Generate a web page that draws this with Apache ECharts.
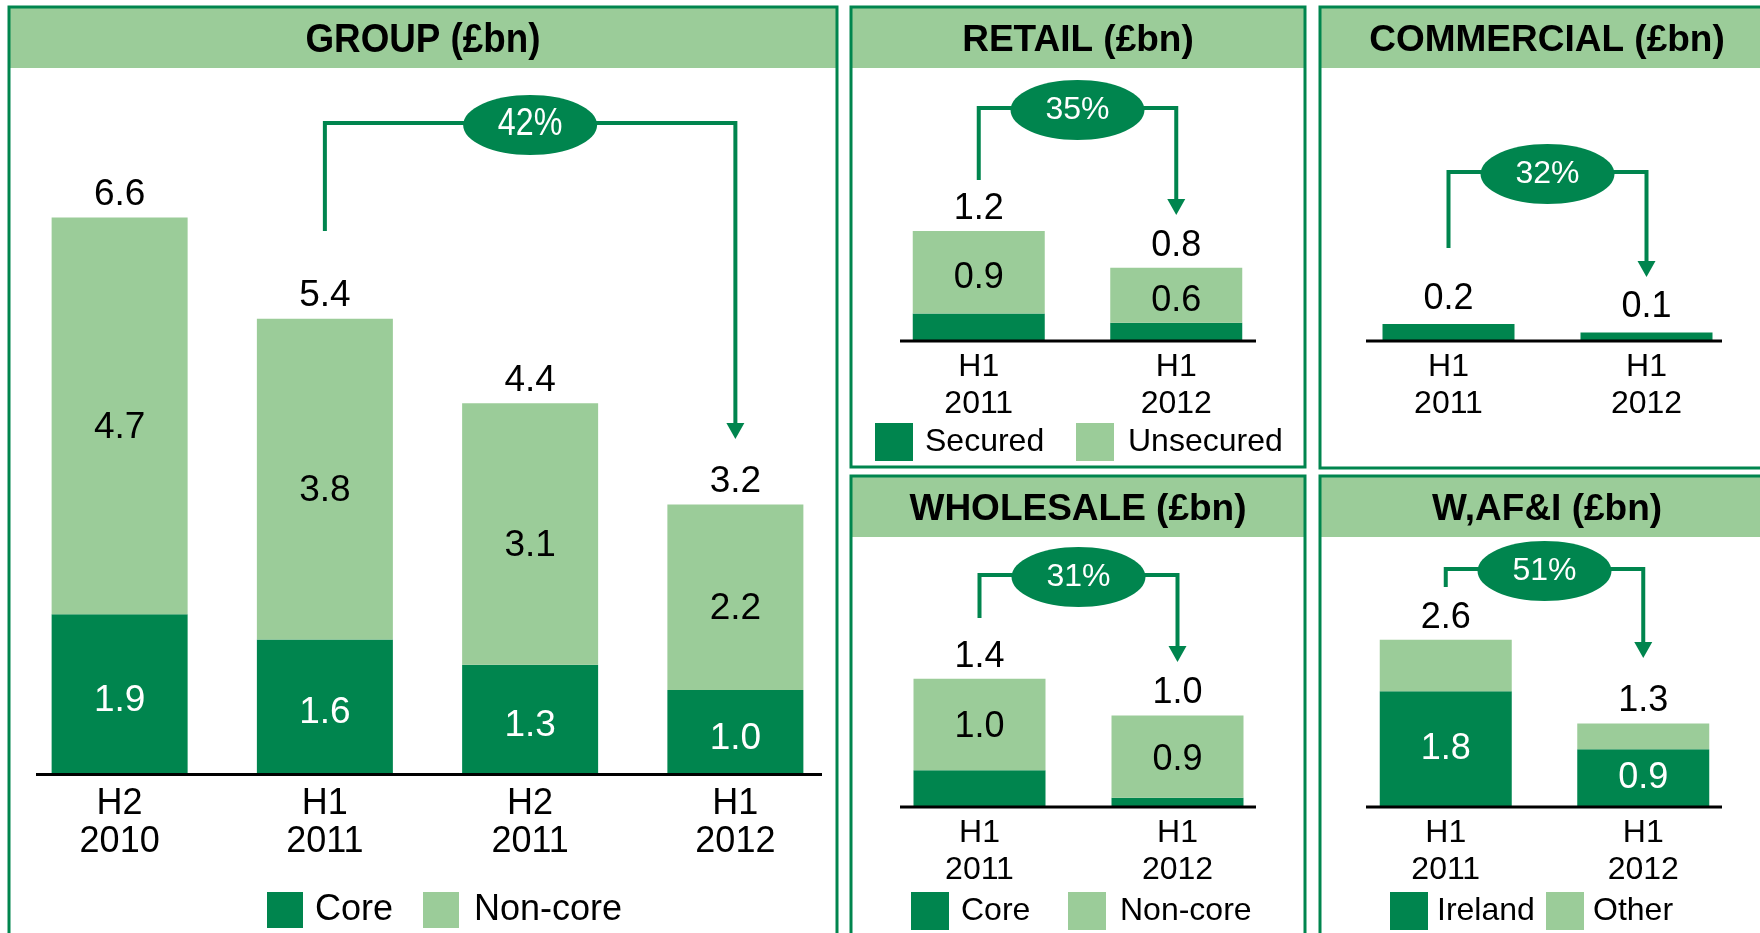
<!DOCTYPE html>
<html>
<head>
<meta charset="utf-8">
<script src="https://cdn.jsdelivr.net/npm/echarts@6/dist/echarts.min.js"></script>
<style>
html, body { margin: 0; padding: 0; background: #fff; }
#chart { width: 1760px; height: 933px; }
</style>
</head>
<body>
<div id="chart"></div>
<script>
var DARK  = '#00854e';
var LIGHT = '#9bcc99';
var SANS  = "'Liberation Sans', Arial, sans-serif";

/* Group */
var groupCats    = ['H2\n2010', 'H1\n2011', 'H2\n2011', 'H1\n2012'];
var groupCore    = [1.9, 1.6, 1.3, 1.0];
var groupNonCore = [4.7, 3.8, 3.1, 2.2];
var groupTotal   = [6.6, 5.4, 4.4, 3.2];

/* Divisions */
var halfCats         = ['H1\n2011', 'H1\n2012'];
var retailSecured    = [0.3, 0.2];
var retailUnsecured  = [0.9, 0.6];
var retailTotal      = [1.2, 0.8];
var commercialTotal  = [0.2, 0.1];
var wholesaleCore    = [0.4, 0.1];
var wholesaleNonCore = [1.0, 0.9];
var wholesaleTotal   = [1.4, 1.0];
var wafiIreland      = [1.8, 0.9];
var wafiOther        = [0.8, 0.4];
var wafiTotal        = [2.6, 1.3];

var titles     = ['GROUP (£bn)', 'RETAIL (£bn)', 'COMMERCIAL (£bn)', 'WHOLESALE (£bn)', 'W,AF&I (£bn)'];
var reductions = ['42%', '35%', '32%', '31%', '51%'];

var chart = echarts.init(document.getElementById('chart'));

function fmt(p)
{
    return p.value.toFixed(1);
}

function segment(name, grid, data, color, labelColor, showLabel, size, width, dy)
{
    return {
        name: name, type: 'bar', stack: 's' + grid,
        xAxisIndex: grid, yAxisIndex: grid,
        data: data, barWidth: width, barGap: '-100%',
        itemStyle: {color: color},
        label: {show: showLabel, position: 'inside', offset: [0, dy], color: labelColor, fontFamily: SANS, fontSize: size, formatter: fmt},
        silent: true
    };
}

function totals(grid, data, size, width, dist)
{
    return {
        name: 'Total' + grid, type: 'bar',
        xAxisIndex: grid, yAxisIndex: grid,
        data: data, barWidth: width, barGap: '-100%',
        itemStyle: {color: 'rgba(0,0,0,0)'},
        label: {show: true, position: 'top', distance: dist, color: '#000', fontFamily: SANS, fontSize: size, formatter: fmt},
        silent: true
    };
}

function xAxis(grid, cats, size, lineHeight, margin)
{
    return {
        type: 'category', gridIndex: grid, data: cats,
        axisLine: {show: false}, axisTick: {show: false},
        axisLabel: {interval: 0, color: '#000', fontFamily: SANS, fontSize: size, lineHeight: lineHeight, margin: margin}
    };
}

function legendItem(name, left, top, size, box, gap)
{
    return {
        data: [name], left: left, top: top, padding: 0,
        icon: 'rect', itemWidth: box, itemHeight: box,
        selectedMode: false,
        textStyle: {fontFamily: SANS, fontSize: size, color: '#000', padding: [0, 0, 0, gap]}
    };
}

chart.setOption({
    animation: false,
    grid: [
        {left: 17, width: 821, top: 141.5, height: 633},
        {left: 880, width: 395, top: 112, height: 229},
        {left: 1349.5, width: 396, top: 129, height: 212},
        {left: 880.5, width: 396, top: 578, height: 229},
        {left: 1347, width: 395, top: 582, height: 225}
    ],
    xAxis: [
        xAxis(0, groupCats, 36, 38, 11),
        xAxis(1, halfCats, 32, 37, 8),
        xAxis(2, halfCats, 32, 37, 8),
        xAxis(3, halfCats, 32, 37, 8),
        xAxis(4, halfCats, 32, 37, 8)
    ],
    yAxis: [
        {type: 'value', gridIndex: 0, min: 0, max: 7.5, show: false},
        {type: 'value', gridIndex: 1, min: 0, max: 2.5, show: false},
        {type: 'value', gridIndex: 2, min: 0, max: 2.5, show: false},
        {type: 'value', gridIndex: 3, min: 0, max: 2.5, show: false},
        {type: 'value', gridIndex: 4, min: 0, max: 3.5, show: false}
    ],
    legend: [
        legendItem('Core', 267, 892, 36, 36, 7),
        legendItem('Non-core', 423, 892, 36, 36, 10),
        legendItem('Secured', 875, 423, 32, 38, 7),
        legendItem('Unsecured', 1076, 423, 32, 38, 9),
        legendItem('Core', 911, 892, 32, 38, 7),
        legendItem('Non-core', 1068, 892, 32, 38, 9),
        legendItem('Ireland', 1390, 892, 32, 38, 4),
        legendItem('Other', 1546, 892, 32, 38, 4)
    ],
    series: [
        segment('Core', 0, groupCore, DARK, '#fff', true, 37, 136, 6),
        segment('Non-core', 0, groupNonCore, LIGHT, '#000', true, 37, 136, 12),
        totals(0, groupTotal, 37, 136, 4),

        segment('Secured', 1, retailSecured, DARK, '#fff', false, 36, 132, 0),
        segment('Unsecured', 1, retailUnsecured, LIGHT, '#000', true, 36, 132, 6),
        totals(1, retailTotal, 36, 132, 4),

        {
            name: 'Commercial', type: 'bar', xAxisIndex: 2, yAxisIndex: 2,
            data: commercialTotal, barWidth: 132, itemStyle: {color: DARK},
            label: {show: true, position: 'top', distance: 7, color: '#000', fontFamily: SANS, fontSize: 36, formatter: fmt},
            silent: true
        },

        segment('Core', 3, wholesaleCore, DARK, '#fff', false, 36, 132, 0),
        segment('Non-core', 3, wholesaleNonCore, LIGHT, '#000', true, 36, 132, 3),
        totals(3, wholesaleTotal, 36, 132, 4),

        segment('Ireland', 4, wafiIreland, DARK, '#fff', true, 36, 132, 0),
        segment('Other', 4, wafiOther, LIGHT, '#000', false, 36, 132, 0),
        totals(4, wafiTotal, 36, 132, 4)
    ]
});

/* Panels, headers, baselines and the reduction brackets */
var panels = [
    {x: 9, y: 7, w: 828, h: 940, size: 40, squeeze: 0.92},
    {x: 851, y: 7, w: 454, h: 460, size: 37, squeeze: 1},
    {x: 1320, y: 7, w: 454, h: 461, size: 37, squeeze: 1},
    {x: 851, y: 476, w: 454, h: 470, size: 37, squeeze: 1},
    {x: 1320, y: 476, w: 454, h: 470, size: 37, squeeze: 1}
];
var baselines = [
    {x1: 36, x2: 822, y: 774.5},
    {x1: 900, x2: 1256, y: 341},
    {x1: 1366, x2: 1722, y: 341},
    {x1: 900, x2: 1256, y: 807},
    {x1: 1366, x2: 1722, y: 807}
];
var brackets = [
    {from: 1, to: 3, yLine: 123, yStart: 231, yTip: 439, size: 38, squeeze: 0.85},
    {from: 0, to: 1, yLine: 108, yStart: 180, yTip: 215, size: 32, squeeze: 1},
    {from: 0, to: 1, yLine: 172, yStart: 248, yTip: 277, size: 32, squeeze: 1},
    {from: 0, to: 1, yLine: 575, yStart: 618, yTip: 662, size: 32, squeeze: 1},
    {from: 0, to: 1, yLine: 569, yStart: 587, yTip: 658, size: 32, squeeze: 1}
];

var elements = [];
panels.forEach(function(p, i)
{
    elements.push({type: 'rect', shape: {x: p.x, y: p.y, width: p.w, height: 61}, style: {fill: LIGHT}, z: 0});
    elements.push({type: 'rect', shape: {x: p.x, y: p.y, width: p.w, height: p.h}, style: {fill: null, stroke: DARK, lineWidth: 3}, z: 1});
    elements.push({
        type: 'text', z: 2, x: p.x + p.w / 2, y: p.y + 34, scaleX: p.squeeze,
        style: {text: titles[i], x: 0, y: 0, fill: '#000', font: 'bold ' + p.size + 'px ' + SANS, align: 'center', verticalAlign: 'middle'}
    });
});
baselines.forEach(function(b)
{
    elements.push({type: 'line', shape: {x1: b.x1, y1: b.y, x2: b.x2, y2: b.y}, style: {stroke: '#000', lineWidth: 3}, z: 5});
});
brackets.forEach(function(b, i)
{
    var x1 = chart.convertToPixel({xAxisIndex: i}, b.from);
    var x2 = chart.convertToPixel({xAxisIndex: i}, b.to);
    var mid = (x1 + x2) / 2;
    elements.push({
        type: 'polyline', z: 5,
        shape: {points: [[x1, b.yStart], [x1, b.yLine], [x2, b.yLine], [x2, b.yTip - 12]]},
        style: {stroke: DARK, lineWidth: 4, fill: null}
    });
    elements.push({
        type: 'polygon', z: 5,
        shape: {points: [[x2 - 9, b.yTip - 16], [x2 + 9, b.yTip - 16], [x2, b.yTip]]},
        style: {fill: DARK}
    });
    elements.push({type: 'ellipse', z: 6, shape: {cx: mid, cy: b.yLine + 2, rx: 67, ry: 30}, style: {fill: DARK}});
    elements.push({
        type: 'text', z: 7, x: mid, y: b.yLine + 2, scaleX: b.squeeze,
        style: {text: reductions[i], x: 0, y: 0, fill: '#fff', font: b.size + 'px ' + SANS, align: 'center', verticalAlign: 'middle'}
    });
});

chart.setOption({graphic: {elements: elements}});
</script>
</body>
</html>
